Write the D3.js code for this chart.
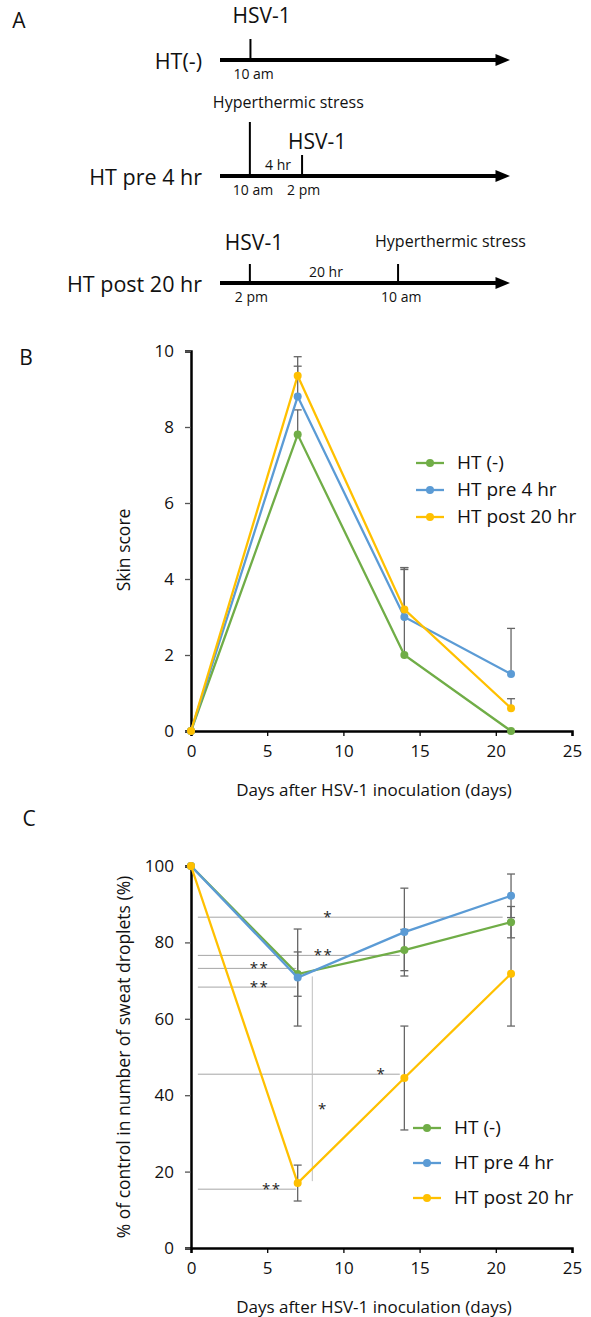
<!DOCTYPE html>
<html>
<head>
<meta charset="utf-8">
<script src="https://cdn.jsdelivr.net/npm/d3@7"></script>
<style>
  body { margin: 0; background: #fff; }
  svg { display: block; font-family: "Open Sans", sans-serif; }
</style>
</head>
<body>
<div id="chart"></div>
<script>
// ---- data ----
var days = [0, 7, 14, 21];
var seriesNames = ["HT (-)", "HT pre 4 hr", "HT post 20 hr"];
var seriesColors = ["#70AD47", "#5B9BD5", "#FFC000"];

// panel B: skin score (mean, upper SD)
var skinGreen = [0, 7.8, 2.0, 0];
var skinBlue = [0, 8.8, 3.0, 1.5];
var skinYellow = [0, 9.35, 3.2, 0.6];
var skinErrGreen = [0, 0.65, 2.3, 0];
var skinErrBlue = [0, 0.8, 1.25, 1.2];
var skinErrYellow = [0, 0.5, 1.1, 0.25];

// panel C: % of control sweat droplets (mean, SD)
var sweatGreen = [100, 71.7, 78.0, 85.3];
var sweatBlue = [100, 70.8, 82.7, 92.2];
var sweatYellow = [100, 17.0, 44.5, 71.8];
var sweatErrGreen = [0, 5.8, 5.4, 4.1];
var sweatErrBlue = [0, 12.7, 11.5, 5.7];
var sweatErrYellow = [0, 4.7, 13.6, 13.7];

var xTicks = [0, 5, 10, 15, 20, 25];
var skinTicks = [0, 2, 4, 6, 8, 10];
var sweatTicks = [0, 20, 40, 60, 80, 100];

// significance brackets in panel C (data units)
var sigHoriz = [
  {x1: 0.45, x2: 20.45, y: 86.6, label: "*", lx: 9.0},
  {x1: 0.45, x2: 13.7, y: 76.6, label: "**", lx: 8.7},
  {x1: 0.45, x2: 6.9, y: 73.2, label: "**", lx: 4.5},
  {x1: 0.45, x2: 6.9, y: 68.3, label: "**", lx: 4.5},
  {x1: 0.45, x2: 13.7, y: 45.5, label: "*", lx: 12.5},
  {x1: 0.45, x2: 6.9, y: 15.4, label: "**", lx: 5.3}
];
var sigVert = [{x: 7.96, y1: 71.1, y2: 17.5, label: "*", lx: 8.6, ly: 36.4}];

// panel A timelines (position along arrow in %, label text)
var timelineRows = [
  {name: "HT(-)", y: 60, ticks: [{pos: 10.5, len: 21, top: "HSV-1", topSize: 21, topDy: -43, topDx: -18, bottom: "10 am"}]},
  {name: "HT pre 4 hr", y: 176, ticks: [
    {pos: 10.3, len: 54, top: "Hyperthermic stress", topSize: 16, topDy: -72, topDx: -37, bottom: "10 am"},
    {pos: 28.3, len: 21, top: "HSV-1", topSize: 21, topDy: -33, topDx: -14, bottom: "2 pm", mid: "4 hr"}]},
  {name: "HT post 20 hr", y: 283, ticks: [
    {pos: 10.3, len: 19, top: "HSV-1", topSize: 21, topDy: -39, topDx: -25, bottom: "2 pm"},
    {pos: 61.4, len: 19, top: "Hyperthermic stress", topSize: 16, topDy: -40, topDx: -23, bottom: "10 am", mid: "20 hr"}]}
];

var W = 591, H = 1317;
var svg = d3.select("#chart").append("svg").attr("width", W).attr("height", H);

// ---- panel letters ----
[["A", 19, 28], ["B", 26, 365], ["C", 29, 826]].forEach(function(p){
  svg.append("text").attr("x", p[1]).attr("y", p[2]).attr("text-anchor", "middle")
    .attr("font-size", 21).attr("fill", "#111").text(p[0]);
});

// ---- panel A ----
var xA = d3.scaleLinear().domain([0, 100]).range([220, 510]);
var gA = svg.append("g");
timelineRows.forEach(function(row){
  gA.append("line").attr("x1", xA(0)).attr("x2", xA(96)).attr("y1", row.y).attr("y2", row.y)
    .attr("stroke", "#000").attr("stroke-width", 4);
  gA.append("path")
    .attr("d", "M" + xA(95) + "," + (row.y - 6) + "L" + xA(100) + "," + row.y + "L" + xA(95) + "," + (row.y + 6) + "Z")
    .attr("fill", "#000");
  gA.append("text").attr("x", 202).attr("y", row.y + 3).attr("dominant-baseline", "middle")
    .attr("text-anchor", "end").attr("font-size", 21.5).attr("fill", "#111").text(row.name);
  row.ticks.forEach(function(t, i){
    var x = xA(t.pos);
    gA.append("line").attr("x1", x).attr("x2", x).attr("y1", row.y - t.len).attr("y2", row.y)
      .attr("stroke", "#000").attr("stroke-width", 2);
    gA.append("text").attr("x", x + t.topDx).attr("y", row.y + t.topDy).attr("dominant-baseline", "middle")
      .attr("font-size", t.topSize).attr("fill", "#111").attr("text-anchor", "start")
      .text(t.top);
    gA.append("text").attr("x", x - 17 + (t.bottom === "2 pm" ? 2 : 0))
      .attr("y", row.y + 15).attr("dominant-baseline", "middle")
      .attr("font-size", 14).attr("fill", "#111").text(t.bottom);
    if (t.mid){
      var prev = xA(row.ticks[i - 1].pos);
      gA.append("text").attr("x", (prev + x) / 2 + 2).attr("y", row.y - 10).attr("dominant-baseline", "middle")
        .attr("text-anchor", "middle").attr("font-size", 14).attr("fill", "#111").text(t.mid);
    }
  });
});

// ---- shared line chart helper ----
function drawPanel(opts){
  var g = svg.append("g");
  var x = d3.scaleLinear().domain([0, 25]).range([191, 572]);
  var y = d3.scaleLinear().domain(opts.yDomain).range(opts.yRange);

  // axes
  var yAxis = d3.axisLeft(y).tickValues(opts.yTicks).tickSize(6).tickPadding(11);
  var xAxis = d3.axisBottom(x).tickValues(xTicks).tickSize(5).tickPadding(9);
  var gy = g.append("g").attr("transform", "translate(" + x(0) + ",0)").call(yAxis);
  var gx = g.append("g").attr("transform", "translate(0," + y(0) + ")").call(xAxis);
  [gx, gy].forEach(function(a){
    a.select(".domain").attr("stroke", "#000").attr("stroke-width", 2.5);
    a.selectAll(".tick line").attr("stroke", "#000").attr("stroke-width", 1.3);
    a.selectAll("text").attr("font-family", "Open Sans").attr("font-size", 17).attr("fill", "#111");
  });
  gy.selectAll(".tick line").attr("stroke", "#555");

  // axis titles
  g.append("text").attr("x", 374).attr("y", y(0) + 60).attr("dominant-baseline", "middle")
    .attr("text-anchor", "middle").attr("font-size", 17).attr("fill", "#111")
    .text("Days after HSV-1 inoculation (days)");
  g.append("text").attr("transform", "translate(125," + opts.yLabelY + ")rotate(-90)")
    .attr("dominant-baseline", "middle").attr("text-anchor", "middle")
    .attr("font-size", 17.5).attr("fill", "#111").text(opts.yLabel);

  // significance lines
  (opts.sigH || []).forEach(function(s){
    g.append("line").attr("x1", x(s.x1)).attr("x2", x(s.x2)).attr("y1", y(s.y)).attr("y2", y(s.y))
      .attr("stroke", "#A6A6A6").attr("stroke-width", 1);
    g.append("text").attr("x", x(s.lx)).attr("y", y(s.y) + 5).attr("text-anchor", "middle")
      .attr("font-size", 15).attr("letter-spacing", 1.5).attr("fill", "#222").text(s.label);
  });
  (opts.sigV || []).forEach(function(s){
    g.append("line").attr("x1", x(s.x)).attr("x2", x(s.x)).attr("y1", y(s.y1)).attr("y2", y(s.y2))
      .attr("stroke", "#BFBFBF").attr("stroke-width", 1);
    g.append("text").attr("x", x(s.lx)).attr("y", y(s.ly) + 5).attr("text-anchor", "middle")
      .attr("font-size", 15).attr("fill", "#222").text(s.label);
  });

  // error bars
  opts.series.forEach(function(s){
    days.forEach(function(d, i){
      if (!s.err[i]) return;
      var top = y(s.values[i] + s.err[i]);
      var bot = opts.both ? y(s.values[i] - s.err[i]) : y(s.values[i]);
      g.append("line").attr("x1", x(d)).attr("x2", x(d)).attr("y1", top).attr("y2", bot)
        .attr("stroke", "#666").attr("stroke-width", 1.3);
      g.append("line").attr("x1", x(d) - 4).attr("x2", x(d) + 4).attr("y1", top).attr("y2", top)
        .attr("stroke", "#666").attr("stroke-width", 1.3);
      if (opts.both){
        g.append("line").attr("x1", x(d) - 4).attr("x2", x(d) + 4).attr("y1", bot).attr("y2", bot)
          .attr("stroke", "#666").attr("stroke-width", 1.3);
      }
    });
  });

  // lines + markers
  var line = d3.line().x(function(d, i){ return x(days[i]); }).y(function(d){ return y(d); });
  opts.series.forEach(function(s){
    g.append("path").datum(s.values).attr("d", line).attr("fill", "none")
      .attr("stroke", s.color).attr("stroke-width", 2.3);
    g.selectAll(null).data(s.values).enter().append("circle")
      .attr("cx", function(d, i){ return x(days[i]); })
      .attr("cy", function(d){ return y(d); })
      .attr("r", 4).attr("fill", s.color);
  });

  // legend
  opts.series.forEach(function(s, i){
    var ly = opts.legendY + i * opts.legendStep;
    g.append("line").attr("x1", opts.legendX).attr("x2", opts.legendX + 28).attr("y1", ly).attr("y2", ly)
      .attr("stroke", s.color).attr("stroke-width", 2.3);
    g.append("circle").attr("cx", opts.legendX + 14).attr("cy", ly).attr("r", 4).attr("fill", s.color);
    g.append("text").attr("x", opts.legendX + 41).attr("y", ly + 1).attr("dominant-baseline", "middle")
      .attr("font-size", 19).attr("fill", "#111").text(s.name);
  });
}

drawPanel({
  yDomain: [0, 10], yRange: [731, 351], yTicks: skinTicks,
  yLabel: "Skin score", yLabelY: 550,
  both: false,
  series: [
    {name: seriesNames[0], color: seriesColors[0], values: skinGreen, err: skinErrGreen},
    {name: seriesNames[1], color: seriesColors[1], values: skinBlue, err: skinErrBlue},
    {name: seriesNames[2], color: seriesColors[2], values: skinYellow, err: skinErrYellow}
  ],
  legendX: 416, legendY: 463, legendStep: 27
});

drawPanel({
  yDomain: [0, 100], yRange: [1248, 866], yTicks: sweatTicks,
  yLabel: "% of control in number of sweat droplets (%)", yLabelY: 1057,
  both: true,
  sigH: sigHoriz, sigV: sigVert,
  series: [
    {name: seriesNames[0], color: seriesColors[0], values: sweatGreen, err: sweatErrGreen},
    {name: seriesNames[1], color: seriesColors[1], values: sweatBlue, err: sweatErrBlue},
    {name: seriesNames[2], color: seriesColors[2], values: sweatYellow, err: sweatErrYellow}
  ],
  legendX: 413, legendY: 1128, legendStep: 35
});
</script>
</body>
</html>
